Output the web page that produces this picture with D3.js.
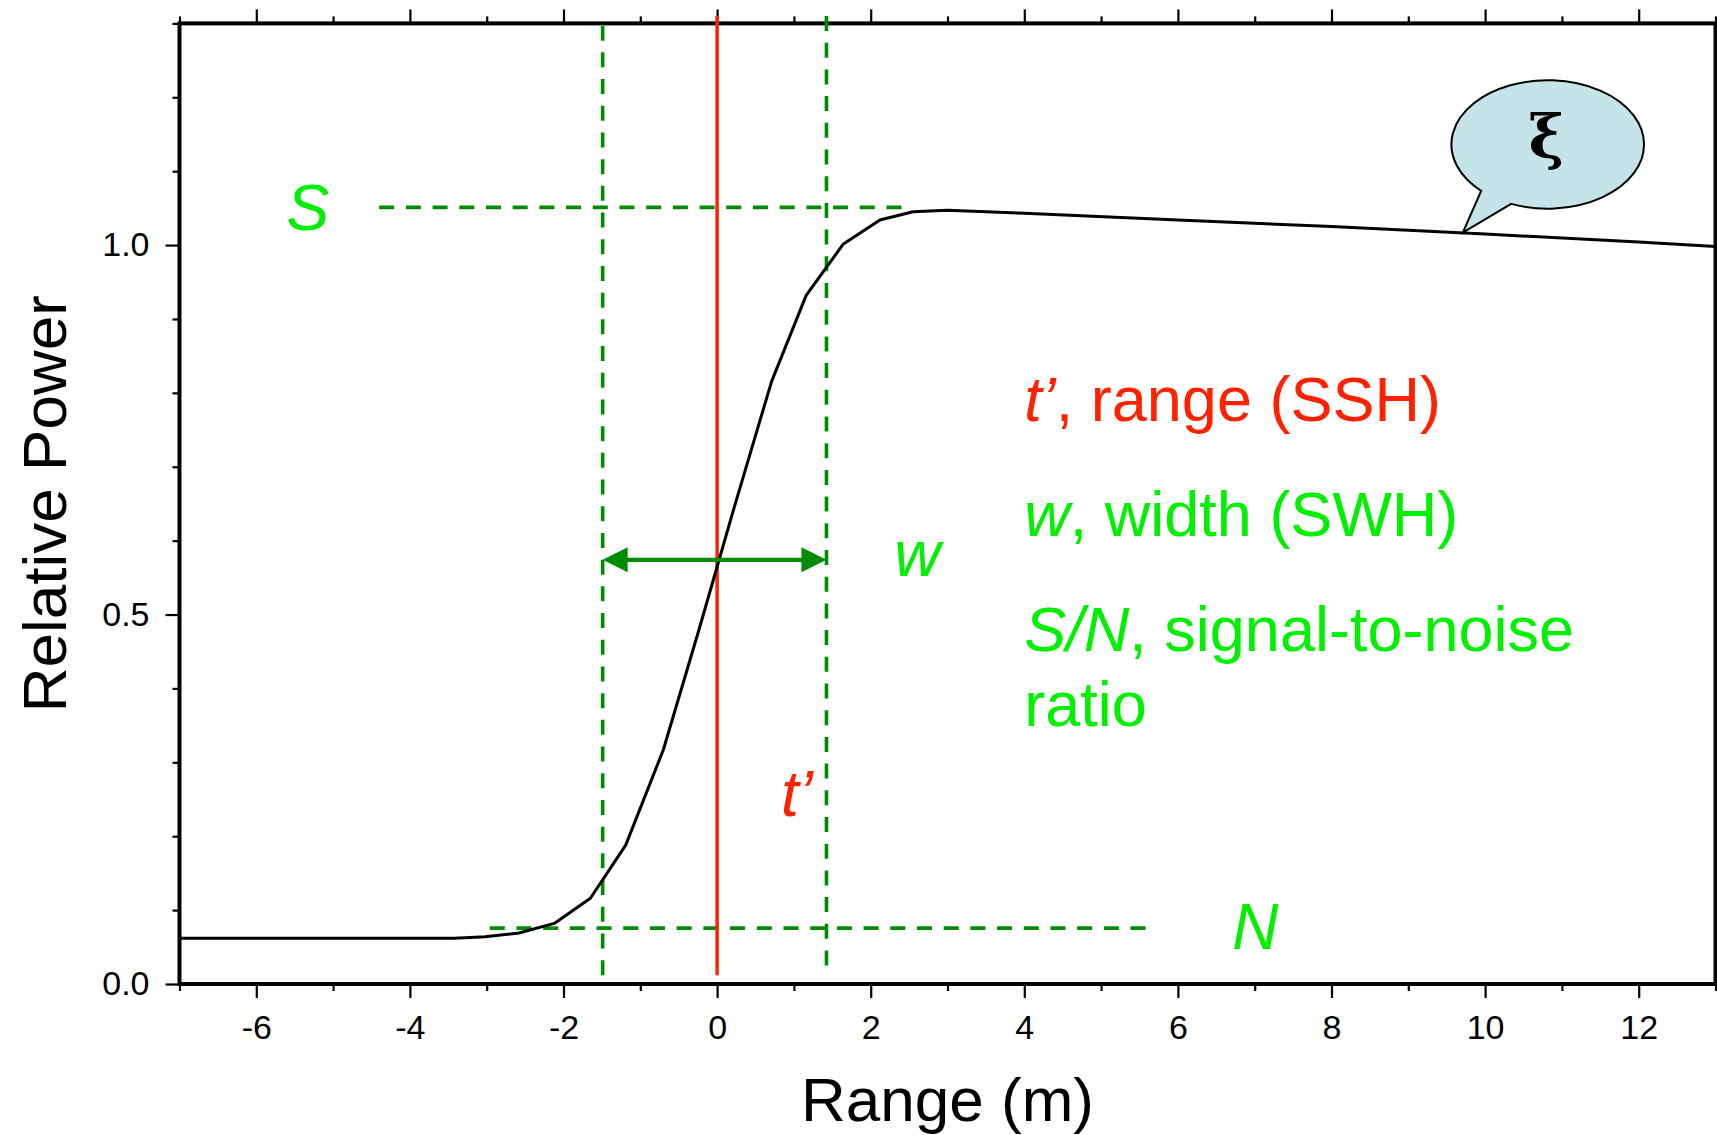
<!DOCTYPE html>
<html>
<head>
<meta charset="utf-8">
<script src="https://cdn.jsdelivr.net/npm/d3@7"></script>
<style>
  body { margin: 0; background: #fff; }
  svg { display: block; font-family: "Liberation Sans", Arial, Helvetica, sans-serif; }
</style>
</head>
<body>
<div id="chart"></div>
<script>
// waveform (range in m, relative power)
var rangeVals = [-7, -3.42, -3.02, -2.58, -2.12, -1.65, -1.19, -0.70, -0.24, 0.22, 0.71, 1.16, 1.64, 2.12, 2.55, 3.0, 4.0, 6.0, 8.0, 10.0, 12.0, 13.0]
var powerVals = [0.062, 0.062, 0.064, 0.069, 0.082, 0.116, 0.188, 0.317, 0.478, 0.644, 0.8155, 0.932, 1.001, 1.034, 1.045, 1.047, 1.043, 1.034, 1.025, 1.015, 1.004, 0.998]

var xTicksMajor = [-6, -4, -2, 0, 2, 4, 6, 8, 10, 12]
var xTicksMinor = [-7, -5, -3, -1, 1, 3, 5, 7, 9, 11, 13]
var yTicksMajor = [0, 0.5, 1.0]
var yTicksMinor = [0.1, 0.2, 0.3, 0.4, 0.6, 0.7, 0.8, 0.9, 1.1, 1.2, 1.3]

// annotation levels
var signalLevel = 1.051
var signalFrom = -4.4, signalTo = 2.44
var noiseLevel = 0.0756
var noiseFrom = -2.96, noiseTo = 5.66
var trackPoint = 0       // t'
var widthLeft = -1.49, widthRight = 1.424
var widthY = 0.574
var vertTop = 1.31, vertBottom = 0.012
var bubbleCenter = [10.795, 1.137]
var bubbleTip = [9.71, 1.017]

var W = 1717, H = 1135
var margin = { left: 179.5, right: 1.5, top: 23.4, bottom: 151 }

var dkGreen = '#008c00'
var ltGreen = '#00f000'
var red = '#ff2200'

var svg = d3.select('#chart').append('svg')
  .attr('width', W)
  .attr('height', H)

var x = d3.scaleLinear().domain([-7, 13]).range([margin.left, W - margin.right])
var y = d3.scaleLinear().domain([0, 1.3]).range([H - margin.bottom, margin.top])

// axes
function styleAxis(g) {
  g.selectAll('.domain').remove()
  g.selectAll('.tick line').attr('stroke', '#000').attr('stroke-width', 2.2)
  g.selectAll('.tick text').attr('font-size', 34).attr('fill', '#000')
    .attr('font-family', '"Liberation Sans", Arial, sans-serif')
}
var plainNum = function (d) { return String(d) }

svg.append('g')
  .attr('transform', 'translate(0,' + y(0) + ')')
  .call(d3.axisBottom(x).tickValues(xTicksMajor).tickSize(14).tickPadding(16.5).tickFormat(plainNum).tickSizeOuter(0))
  .call(styleAxis)
svg.append('g')
  .attr('transform', 'translate(0,' + y(0) + ')')
  .call(d3.axisBottom(x).tickValues(xTicksMinor).tickSize(7).tickFormat('').tickSizeOuter(0))
  .call(styleAxis)
svg.append('g')
  .attr('transform', 'translate(0,' + y(1.3) + ')')
  .call(d3.axisTop(x).tickValues(xTicksMajor).tickSize(14).tickFormat('').tickSizeOuter(0))
  .call(styleAxis)
svg.append('g')
  .attr('transform', 'translate(0,' + y(1.3) + ')')
  .call(d3.axisTop(x).tickValues(xTicksMinor).tickSize(7).tickFormat('').tickSizeOuter(0))
  .call(styleAxis)
svg.append('g')
  .attr('transform', 'translate(' + x(-7) + ',0)')
  .call(d3.axisLeft(y).tickValues(yTicksMajor).tickSize(14).tickPadding(16).tickFormat(function (d) { return d.toFixed(1) }).tickSizeOuter(0))
  .call(styleAxis)
svg.append('g')
  .attr('transform', 'translate(' + x(-7) + ',0)')
  .call(d3.axisLeft(y).tickValues(yTicksMinor).tickSize(7).tickFormat('').tickSizeOuter(0))
  .call(styleAxis)

// frame
svg.append('rect')
  .attr('x', x(-7))
  .attr('y', y(1.3))
  .attr('width', x(13) - x(-7))
  .attr('height', y(0) - y(1.3))
  .attr('fill', 'none')
  .attr('stroke', '#000')
  .attr('stroke-width', 4)

// axis titles
svg.append('text')
  .attr('x', (x(-7) + x(13)) / 2)
  .attr('y', 1121)
  .attr('text-anchor', 'middle')
  .attr('font-size', 62)
  .text('Range (m)')
svg.append('text')
  .attr('transform', 'translate(66,' + (y(0) + y(1.3)) / 2 + ') rotate(-90)')
  .attr('text-anchor', 'middle')
  .attr('font-size', 62)
  .text('Relative Power')

// dashed guides
var dash = '15,11.7'
var guides = svg.append('g')
  .attr('stroke', dkGreen)
  .attr('stroke-width', 3.6)
  .attr('stroke-dasharray', dash)
  .attr('fill', 'none')
guides.append('line')
  .attr('x1', x(signalFrom)).attr('x2', x(signalTo))
  .attr('y1', y(signalLevel)).attr('y2', y(signalLevel))
guides.append('line')
  .attr('x1', x(noiseFrom)).attr('x2', x(noiseTo))
  .attr('y1', y(noiseLevel)).attr('y2', y(noiseLevel))
guides.append('line')
  .attr('x1', x(widthLeft)).attr('x2', x(widthLeft))
  .attr('y1', y(vertBottom)).attr('y2', y(vertTop))
guides.append('line')
  .attr('x1', x(widthRight)).attr('x2', x(widthRight))
  .attr('y1', y(vertTop)).attr('y2', y(vertBottom))

// red t' line
svg.append('line')
  .attr('x1', x(trackPoint)).attr('x2', x(trackPoint))
  .attr('y1', y(vertTop)).attr('y2', y(vertBottom))
  .attr('stroke', red)
  .attr('stroke-width', 3.5)

// waveform
var line = d3.line()
  .x(function (d, i) { return x(rangeVals[i]) })
  .y(function (d, i) { return y(powerVals[i]) })
svg.append('path')
  .datum(rangeVals)
  .attr('d', line)
  .attr('fill', 'none')
  .attr('stroke', '#000')
  .attr('stroke-width', 3)
  .attr('stroke-linejoin', 'round')

// width arrow
var headL = 25, headH = 12.5
var ax1 = x(widthLeft), ax2 = x(widthRight), ay = y(widthY)
svg.append('line')
  .attr('x1', ax1 + headL - 2).attr('x2', ax2 - headL + 2)
  .attr('y1', ay).attr('y2', ay)
  .attr('stroke', dkGreen)
  .attr('stroke-width', 4.2)
svg.append('path')
  .attr('d', 'M' + ax1 + ',' + ay + 'L' + (ax1 + headL) + ',' + (ay - headH) + 'L' + (ax1 + headL) + ',' + (ay + headH) + 'Z')
  .attr('fill', dkGreen)
svg.append('path')
  .attr('d', 'M' + ax2 + ',' + ay + 'L' + (ax2 - headL) + ',' + (ay - headH) + 'L' + (ax2 - headL) + ',' + (ay + headH) + 'Z')
  .attr('fill', dkGreen)

// single letter labels
var letters = [
  { t: 'S', x: -5.33, y: 1.0206, c: ltGreen },
  { t: 'w', x: 2.606, y: 0.5526, c: ltGreen },
  { t: 't\u2019', x: 1.04, y: 0.227, c: red },
  { t: 'N', x: 7.01, y: 0.0467, c: ltGreen }
]
svg.append('g')
  .selectAll('text')
  .data(letters)
  .join('text')
  .attr('x', function (d) { return x(d.x) })
  .attr('y', function (d) { return y(d.y) })
  .attr('text-anchor', 'middle')
  .attr('font-size', 64)
  .attr('font-style', 'italic')
  .attr('fill', function (d) { return d.c })
  .text(function (d) { return d.t })

// legend text block
var legendX = 4.0
var legendLines = [
  { y: 0.7614, c: red, parts: [['t\u2019', 'italic'], [', range (SSH)', 'normal']] },
  { y: 0.6058, c: ltGreen, parts: [['w', 'italic'], [', width (SWH)', 'normal']] },
  { y: 0.4502, c: ltGreen, parts: [['S/N', 'italic'], [', signal-to-noise', 'normal']] },
  { y: 0.3488, c: ltGreen, parts: [['ratio', 'normal']] }
]
var lg = svg.append('g')
  .selectAll('text')
  .data(legendLines)
  .join('text')
  .attr('x', x(legendX))
  .attr('y', function (d) { return y(d.y) })
  .attr('font-size', 63)
  .attr('fill', function (d) { return d.c })
lg.selectAll('tspan')
  .data(function (d) { return d.parts })
  .join('tspan')
  .attr('font-style', function (p) { return p[1] })
  .text(function (p) { return p[0] })

// speech bubble
var cx = x(bubbleCenter[0]), cy = y(bubbleCenter[1])
var rx = 96.3, ry = 64.2
var p1 = [cx - 65, cy + 47], p2 = [cx - 35, cy + 60]
var tip = [x(bubbleTip[0]), y(bubbleTip[1])]
svg.append('path')
  .attr('d', 'M' + p1 + 'L' + tip + 'L' + p2 + 'A' + rx + ',' + ry + ' 0 1 0 ' + p1 + 'Z')
  .attr('fill', '#c4e4e8')
  .attr('stroke', '#000')
  .attr('stroke-width', 2)
  .attr('stroke-linejoin', 'miter')
svg.append('text')
  .attr('x', cx)
  .attr('y', cy + 14)
  .attr('text-anchor', 'middle')
  .attr('font-family', '"DejaVu Serif", "Liberation Serif", serif')
  .attr('font-weight', 'bold')
  .attr('font-size', 60)
  .attr('fill', '#000')
  .text('\u03be')
</script>
</body>
</html>
